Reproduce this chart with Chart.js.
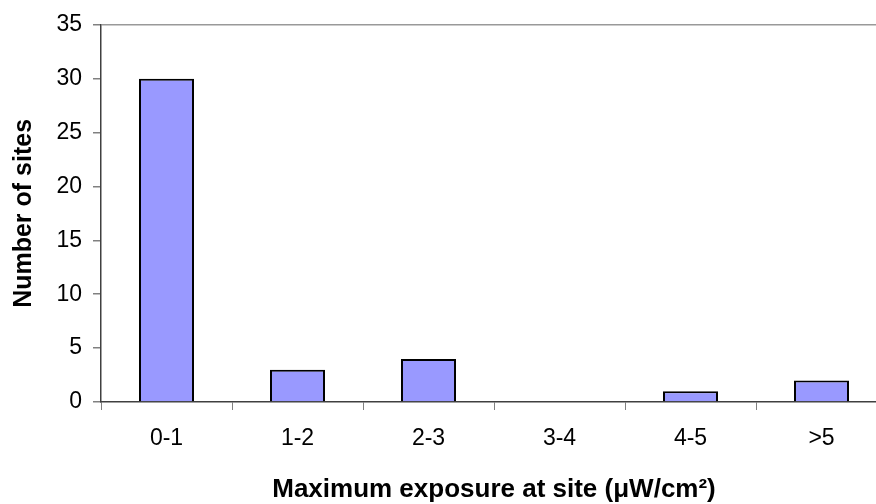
<!DOCTYPE html>
<html>
<head>
<meta charset="utf-8">
<script src="https://cdn.jsdelivr.net/npm/chart.js@4/dist/chart.umd.min.js"></script>
<style>
html,body{margin:0;padding:0;background:#fff;overflow:hidden;}
#wrap{width:900px;height:504px;}
</style>
</head>
<body>
<div id="wrap"><canvas id="c" width="900" height="504"></canvas></div>
<script>
const categories = ['0-1', '1-2', '2-3', '3-4', '4-5', '>5'];
const siteCounts = [30, 3, 4, 0, 1, 2];
const yTickValues = [0, 5, 10, 15, 20, 25, 30, 35];
const xTitle = 'Maximum exposure at site (\u03BCW/cm\u00B2)';
const yTitle = 'Number of sites';

const FONT = '"Liberation Sans", Arial, sans-serif';

new Chart(document.getElementById('c'), {
  type: 'bar',
  data: {
    labels: categories,
    datasets: [{
      data: siteCounts,
      backgroundColor: '#9999FF',
      borderColor: '#000000',
      borderWidth: 2,
      categoryPercentage: 1,
      barPercentage: 0.42
    }]
  },
  options: {
    responsive: false,
    animation: false,
    layout: { padding: { top: 22, right: 13, left: 0, bottom: 0 } },
    plugins: {
      legend: { display: false },
      tooltip: { enabled: false },
      title: { display: false }
    },
    scales: {
      x: {
        afterFit: s => { s.height = 102; },
        grid: {
          offset: true,
          drawOnChartArea: false,
          tickLength: 8,
          tickColor: '#808080'
        },
        border: { color: '#404040', width: 1.5 },
        ticks: {
          color: '#000',
          font: { family: FONT, size: 23 },
          padding: 15
        },
        title: {
          display: true,
          text: xTitle,
          color: '#000',
          font: { family: FONT, size: 26, weight: 'bold' },
          padding: { top: 0, bottom: -1.5 }
        }
      },
      y: {
        min: 0,
        max: 35,
        afterFit: s => { s.width = 101; },
        afterBuildTicks: s => { s.ticks = yTickValues.map(v => ({ value: v })); },
        grid: {
          drawOnChartArea: true,
          color: ctx => (ctx.tick && ctx.tick.value === 35) ? '#999999' : 'rgba(0,0,0,0)',
          lineWidth: 1.5,
          tickLength: 8,
          tickColor: '#808080'
        },
        border: { color: '#404040', width: 1.5 },
        ticks: {
          color: '#000',
          font: { family: FONT, size: 23 },
          padding: 11
        },
        title: {
          display: true,
          text: yTitle,
          color: '#000',
          font: { family: FONT, size: 25, weight: 'bold' },
          padding: { top: 9, bottom: 0 }
        }
      }
    }
  }
});
</script>
</body>
</html>
